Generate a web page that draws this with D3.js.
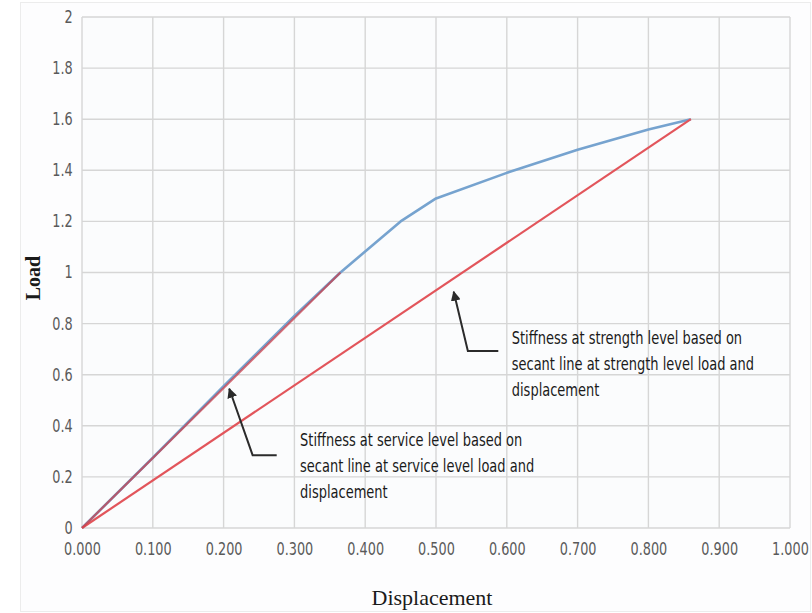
<!DOCTYPE html>
<html>
<head>
<meta charset="utf-8">
<script src="https://cdn.jsdelivr.net/npm/d3@7"></script>
<style>
  html, body { margin: 0; padding: 0; background: #ffffff; }
  svg { display: block; }
  .tick-label { font-family: "DejaVu Sans Condensed", "Liberation Sans Narrow", "DejaVu Sans", sans-serif; font-stretch: condensed; fill: #5a5a5a; }
  .note { font-family: "DejaVu Sans Condensed", "Liberation Sans Narrow", "DejaVu Sans", sans-serif; font-stretch: condensed; fill: #1a1a1a; }
</style>
</head>
<body>
<script>
// Load–displacement response
const displacement = [0, 0.1, 0.2, 0.3, 0.365, 0.45, 0.5, 0.6, 0.7, 0.8, 0.86];
const load         = [0, 0.275, 0.555, 0.83, 1.0, 1.2, 1.29, 1.39, 1.48, 1.56, 1.6];

// Secant lines: service level and strength level
const serviceSecant  = [[0, 0], [0.365, 1.0]];
const strengthSecant = [[0, 0], [0.86, 1.6]];

// Axis ticks
const xTicks = [0, 0.1, 0.2, 0.3, 0.4, 0.5, 0.6, 0.7, 0.8, 0.9, 1.0];
const yTicks = [0, 0.2, 0.4, 0.6, 0.8, 1.0, 1.2, 1.4, 1.6, 1.8, 2.0];

// Annotation texts
const strengthNote = ["Stiffness at strength level based on", "secant line at strength level load and", "displacement"];
const serviceNote  = ["Stiffness at service level based on", "secant line at service level load and", "displacement"];

const W = 812, H = 613;
const svg = d3.select("body").append("svg").attr("width", W).attr("height", H);

const x = d3.scaleLinear().domain([0, 1]).range([82, 790]);
const y = d3.scaleLinear().domain([0, 2]).range([528, 17]);

// faint chart frame
svg.append("rect").attr("x", 20.5).attr("y", 2.5).attr("width", W - 22).attr("height", H - 4)
  .attr("fill", "#fdfdfe").attr("stroke", "#ececec").attr("stroke-width", 1);

// plot background
svg.append("rect").attr("x", x(0)).attr("y", y(2)).attr("width", x(1) - x(0)).attr("height", y(0) - y(2))
  .attr("fill", "#fbfcfd");

// gridlines
const grid = svg.append("g").attr("stroke", "#d6d6d6").attr("stroke-width", 1.4);
grid.selectAll("line.v").data(xTicks).join("line")
  .attr("x1", d => x(d)).attr("x2", d => x(d)).attr("y1", y(0)).attr("y2", y(2));
grid.selectAll("line.h").data(yTicks).join("line")
  .attr("x1", x(0)).attr("x2", x(1)).attr("y1", d => y(d)).attr("y2", d => y(d));

// axes built with d3 axis generators, domain lines hidden; labels condensed horizontally
const xAxis = svg.append("g").attr("transform", `translate(0,${y(0)})`)
  .call(d3.axisBottom(x).tickValues(xTicks).tickFormat(d3.format(".3f")).tickSize(0).tickPadding(15));
const yAxis = svg.append("g").attr("transform", `translate(${x(0)},0)`)
  .call(d3.axisLeft(y).tickValues(yTicks).tickFormat(d => String(+d.toFixed(1))).tickSize(0).tickPadding(11));
[xAxis, yAxis].forEach(a => {
  a.select(".domain").remove();
  a.selectAll("text").attr("class", "tick-label").attr("font-size", 17).attr("fill", "#5a5a5a")
    .attr("transform", "scale(0.84,1)");
});

// curves
const line = d3.line().x(d => x(d[0])).y(d => y(d[1]));
const curve = displacement.map((d, i) => [d, load[i]]);

svg.append("path").datum(curve).attr("d", line)
  .attr("fill", "none").attr("stroke", "#76a3cf").attr("stroke-width", 2.6).attr("stroke-linejoin", "round");
svg.append("path").datum(strengthSecant).attr("d", line)
  .attr("fill", "none").attr("stroke", "#e2555b").attr("stroke-width", 2.2);
svg.append("path").datum(serviceSecant).attr("d", line)
  .attr("fill", "none").attr("stroke", "#c8404c").attr("stroke-width", 2.2).attr("stroke-opacity", 0.75);

// arrow marker
svg.append("defs").append("marker")
  .attr("id", "head").attr("viewBox", "0 0 10 10").attr("refX", 9).attr("refY", 5)
  .attr("markerWidth", 5).attr("markerHeight", 5).attr("orient", "auto")
  .append("path").attr("d", "M0,0 L10,5 L0,10 z").attr("fill", "#2b2b2b");

// leader line with arrow, plus a horizontally condensed text block
function callout(tip, elbow, end, textPos, lines) {
  svg.append("path")
    .attr("d", `M${x(end[0])},${y(end[1])} L${x(elbow[0])},${y(elbow[1])} L${x(tip[0])},${y(tip[1])}`)
    .attr("fill", "none").attr("stroke", "#2b2b2b").attr("stroke-width", 2).attr("marker-end", "url(#head)");
  const t = svg.append("text").attr("class", "note").attr("font-size", 17)
    .attr("transform", `translate(${x(textPos[0])},${y(textPos[1])}) scale(0.85,1)`);
  t.selectAll("tspan").data(lines).join("tspan")
    .attr("x", 0).attr("dy", (d, i) => i === 0 ? 0 : 26).text(d => d);
}

// strength-level callout (positions in data units)
callout([0.525, 0.925], [0.545, 0.693], [0.588, 0.693], [0.607, 0.72], strengthNote);
// service-level callout
callout([0.208, 0.545], [0.241, 0.285], [0.275, 0.285], [0.308, 0.32], serviceNote);

// axis titles
svg.append("text").attr("x", 432).attr("y", 605).attr("text-anchor", "middle")
  .attr("font-family", "'Liberation Serif', 'Times New Roman', serif").attr("font-size", 22).attr("fill", "#1a1a1a")
  .text("Displacement");
svg.append("text").attr("transform", "translate(40,278) rotate(-90)").attr("text-anchor", "middle")
  .attr("font-family", "'Liberation Serif', 'Times New Roman', serif").attr("font-weight", "bold")
  .attr("font-size", 20).attr("fill", "#1a1a1a").text("Load");
</script>
</body>
</html>
